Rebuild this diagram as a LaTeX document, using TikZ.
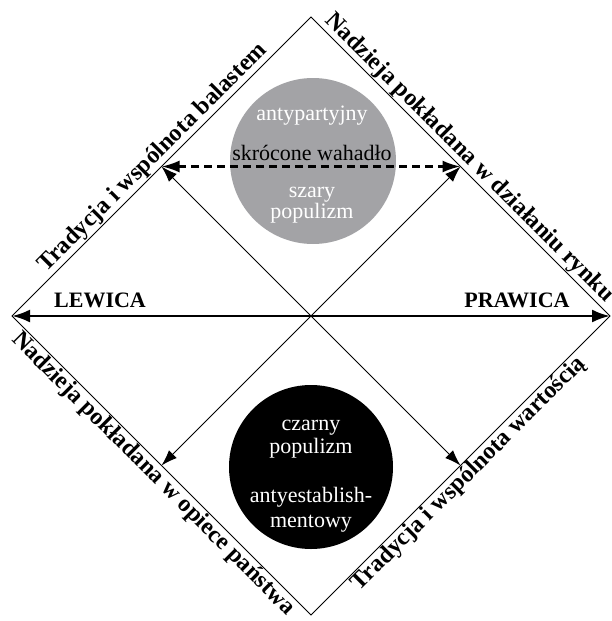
\documentclass[tikz,border=0pt]{standalone}
\usepackage{fontspec}
\setmainfont{Liberation Serif}
\usetikzlibrary{arrows.meta,calc}
\definecolor{circgray}{RGB}{163,163,166}
\begin{document}
\begin{tikzpicture}[x=1pt,y=-1pt,
  frame/.style={line width=0.9pt},
  inarrow/.style={line width=0.9pt,-{Latex[length=16pt,width=11pt]}},
  axisarrow/.style={line width=2.6pt,{Latex[length=18pt,width=13pt]}-{Latex[length=18pt,width=13pt]}},
  dasharrow/.style={line width=2.4pt,dash pattern=on 8pt off 5pt,{Latex[length=18pt,width=12pt]}-{Latex[length=18pt,width=12pt]}},
  blob/.style={circle,inner sep=0pt,draw=none},
  ctext/.style={font=\fontsize{22}{24}\selectfont,anchor=base,inner sep=0pt},
  sidelab/.style={font=\fontsize{24}{26}\selectfont\bfseries,inner sep=1pt},
  poslab/.style={font=\fontsize{22}{24}\selectfont\bfseries,anchor=base,inner sep=0pt}
]
\useasboundingbox (0,0) rectangle (611,621);
\coordinate (T) at (311,17);
\coordinate (B) at (311,615);
\coordinate (L) at (12,316);
\coordinate (R) at (610,316);
\coordinate (C) at (311,316);
\coordinate (UL) at ($(L)!0.5!(T)$);
\coordinate (UR) at ($(T)!0.5!(R)$);
\coordinate (LL) at ($(L)!0.5!(B)$);
\coordinate (LR) at ($(B)!0.5!(R)$);
% frame
\draw[frame] (T) -- (R) -- (B) -- (L) -- cycle;
% inner arrows
\draw[inarrow] (C) -- (UL);
\draw[inarrow] (C) -- (UR);
\draw[inarrow] (C) -- (LL);
\draw[inarrow] (C) -- (LR);
% circles
\node[blob,fill=circgray,minimum size=166pt] (gray) at (313,161) {};
\node[blob,fill=black,minimum size=164pt] (black) at (311,467) {};
% dashed arrow
\draw[dasharrow] (UL) -- (UR);
% circle texts
\node[ctext,text=white] (t1) at (312,120) {antypartyjny};
\node[ctext,text=black] (t2) at (312,160) {skrócone wahadło};
\node[ctext,text=white] (t3) at (312,197) {szary};
\node[ctext,text=white] (t4) at (312,218) {populizm};
\node[ctext,text=white] (b1) at (311,430) {czarny};
\node[ctext,text=white] (b2) at (311,453) {populizm};
\node[ctext,text=white] (b3) at (311,502) {antyestablish-};
\node[ctext,text=white] (b4) at (311,527) {mentowy};
% axis
\draw[axisarrow] (L) -- (R);
\node[poslab] (lew) at (100,307) {LEWICA};
\node[poslab] (pra) at (517,307) {PRAWICA};
% side labels
\node[sidelab,rotate=45,anchor=south] (s1) at (UL) {Tradycja i wspólnota balastem};
\node[sidelab,rotate=-45,anchor=south] (s2) at (UR) {Nadzieja pokładana w działaniu rynku};
\node[sidelab,rotate=-45,anchor=north] (s3) at (LL) {Nadzieja pokładana w opiece państwa};
\node[sidelab,rotate=45,anchor=north] (s4) at (LR) {Tradycja i wspólnota wartością};
\end{tikzpicture}
\end{document}
